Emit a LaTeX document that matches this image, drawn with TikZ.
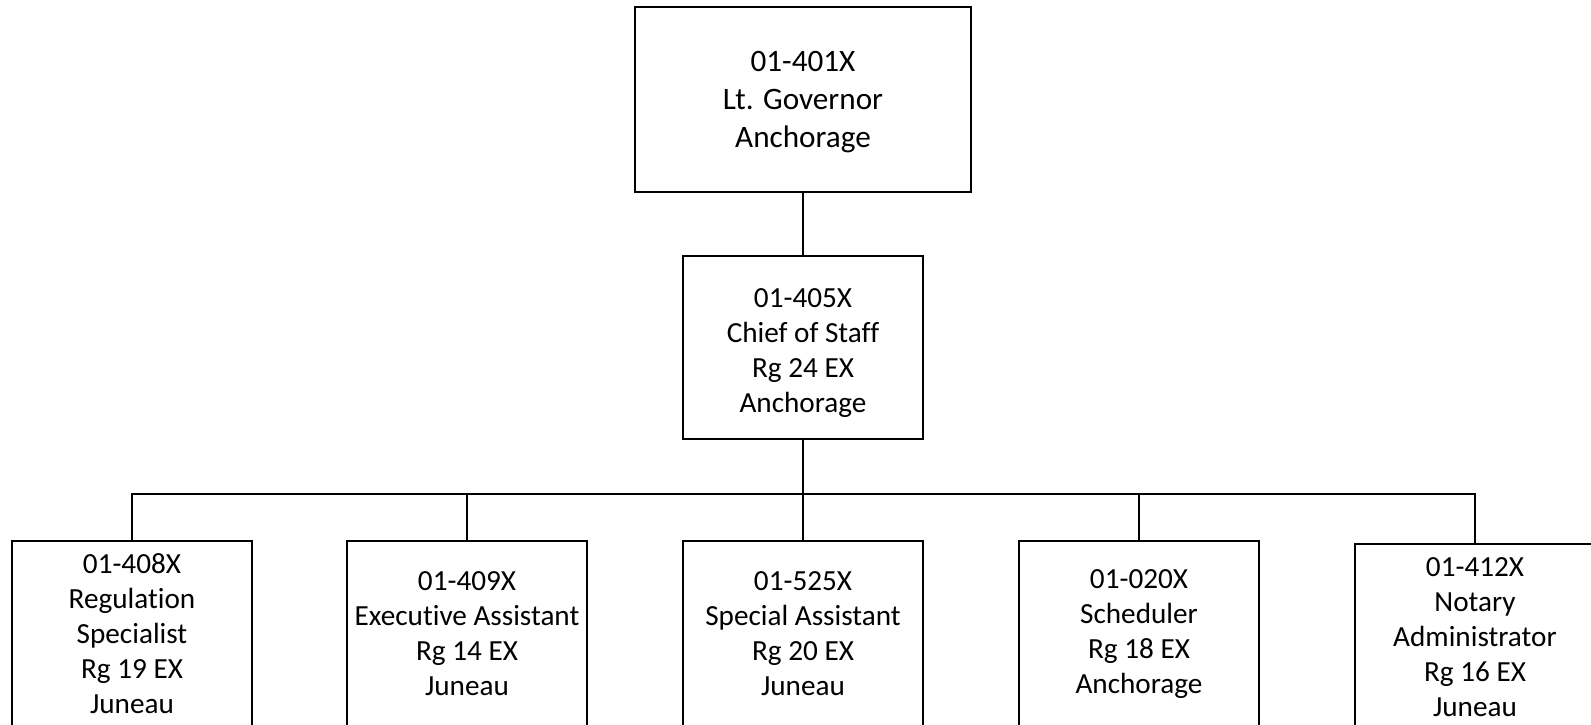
\documentclass[tikz,border=0pt]{standalone}
\usepackage{fontspec}
\setmainfont{Carlito}[Ligatures=NoCommon]
\begin{document}
\begin{tikzpicture}[x=0.5pt,y=-0.5pt,
  frame/.style={draw,line width=0.9pt,inner sep=0pt,minimum width=120pt},
  txt/.style={inner sep=0pt,align=center,font=\fontsize{14.6pt}{17.5pt}\selectfont},
  toptxt/.style={inner sep=0pt,align=center,font=\fontsize{15.6pt}{19pt}\selectfont},
  link/.style={draw,line width=0.6pt}]
\useasboundingbox (0,0) rectangle (1591,724);
\clip (0,0) rectangle (1591,724);
\node[frame,minimum width=168pt,minimum height=92.5pt] (top) at (803,99.5) {};
\node[toptxt] (topt) at ([yshift=-1.5pt]top.center) {01-401X\\Lt. Governor\\Anchorage};
\node[frame,minimum height=91.5pt] (mid) at (803,347.5) {};
\node[txt] (midt) at ([yshift=-3pt]mid.center) {01-405X\\Chief of Staff\\Rg 24 EX\\Anchorage};
\coordinate (bus) at (803,494);
\node[frame,minimum height=93pt] (b1) at (132,634) {};
\node[txt] (b1t) at (b1.center) {01-408X\\Regulation\\Specialist\\Rg 19 EX\\Juneau};
\node[frame,minimum height=93pt] (b2) at (467,634) {};
\node[txt] (b2t) at (b2.center) {01-409X\\Executive Assistant\\Rg 14 EX\\Juneau};
\node[frame,minimum height=93pt] (b3) at (803,634) {};
\node[txt] (b3t) at (b3.center) {01-525X\\Special Assistant\\Rg 20 EX\\Juneau};
\node[frame,minimum height=93pt] (b4) at (1139,634) {};
\node[txt] (b4t) at (b4.center) {01-020X\\Scheduler\\Rg 18 EX\\Anchorage};
\node[frame,minimum height=93pt] (b5) at (1475,637) {};
\node[txt] (b5t) at (b5.center) {01-412X\\Notary\\Administrator\\Rg 16 EX\\Juneau};
\draw[link] (top.south) -- (mid.north);
\draw[link] (mid.south) -- (bus);
\foreach \n in {b1,b2,b3,b4,b5} {\draw[link] (\n.north) |- (bus);}
\end{tikzpicture}
\end{document}
